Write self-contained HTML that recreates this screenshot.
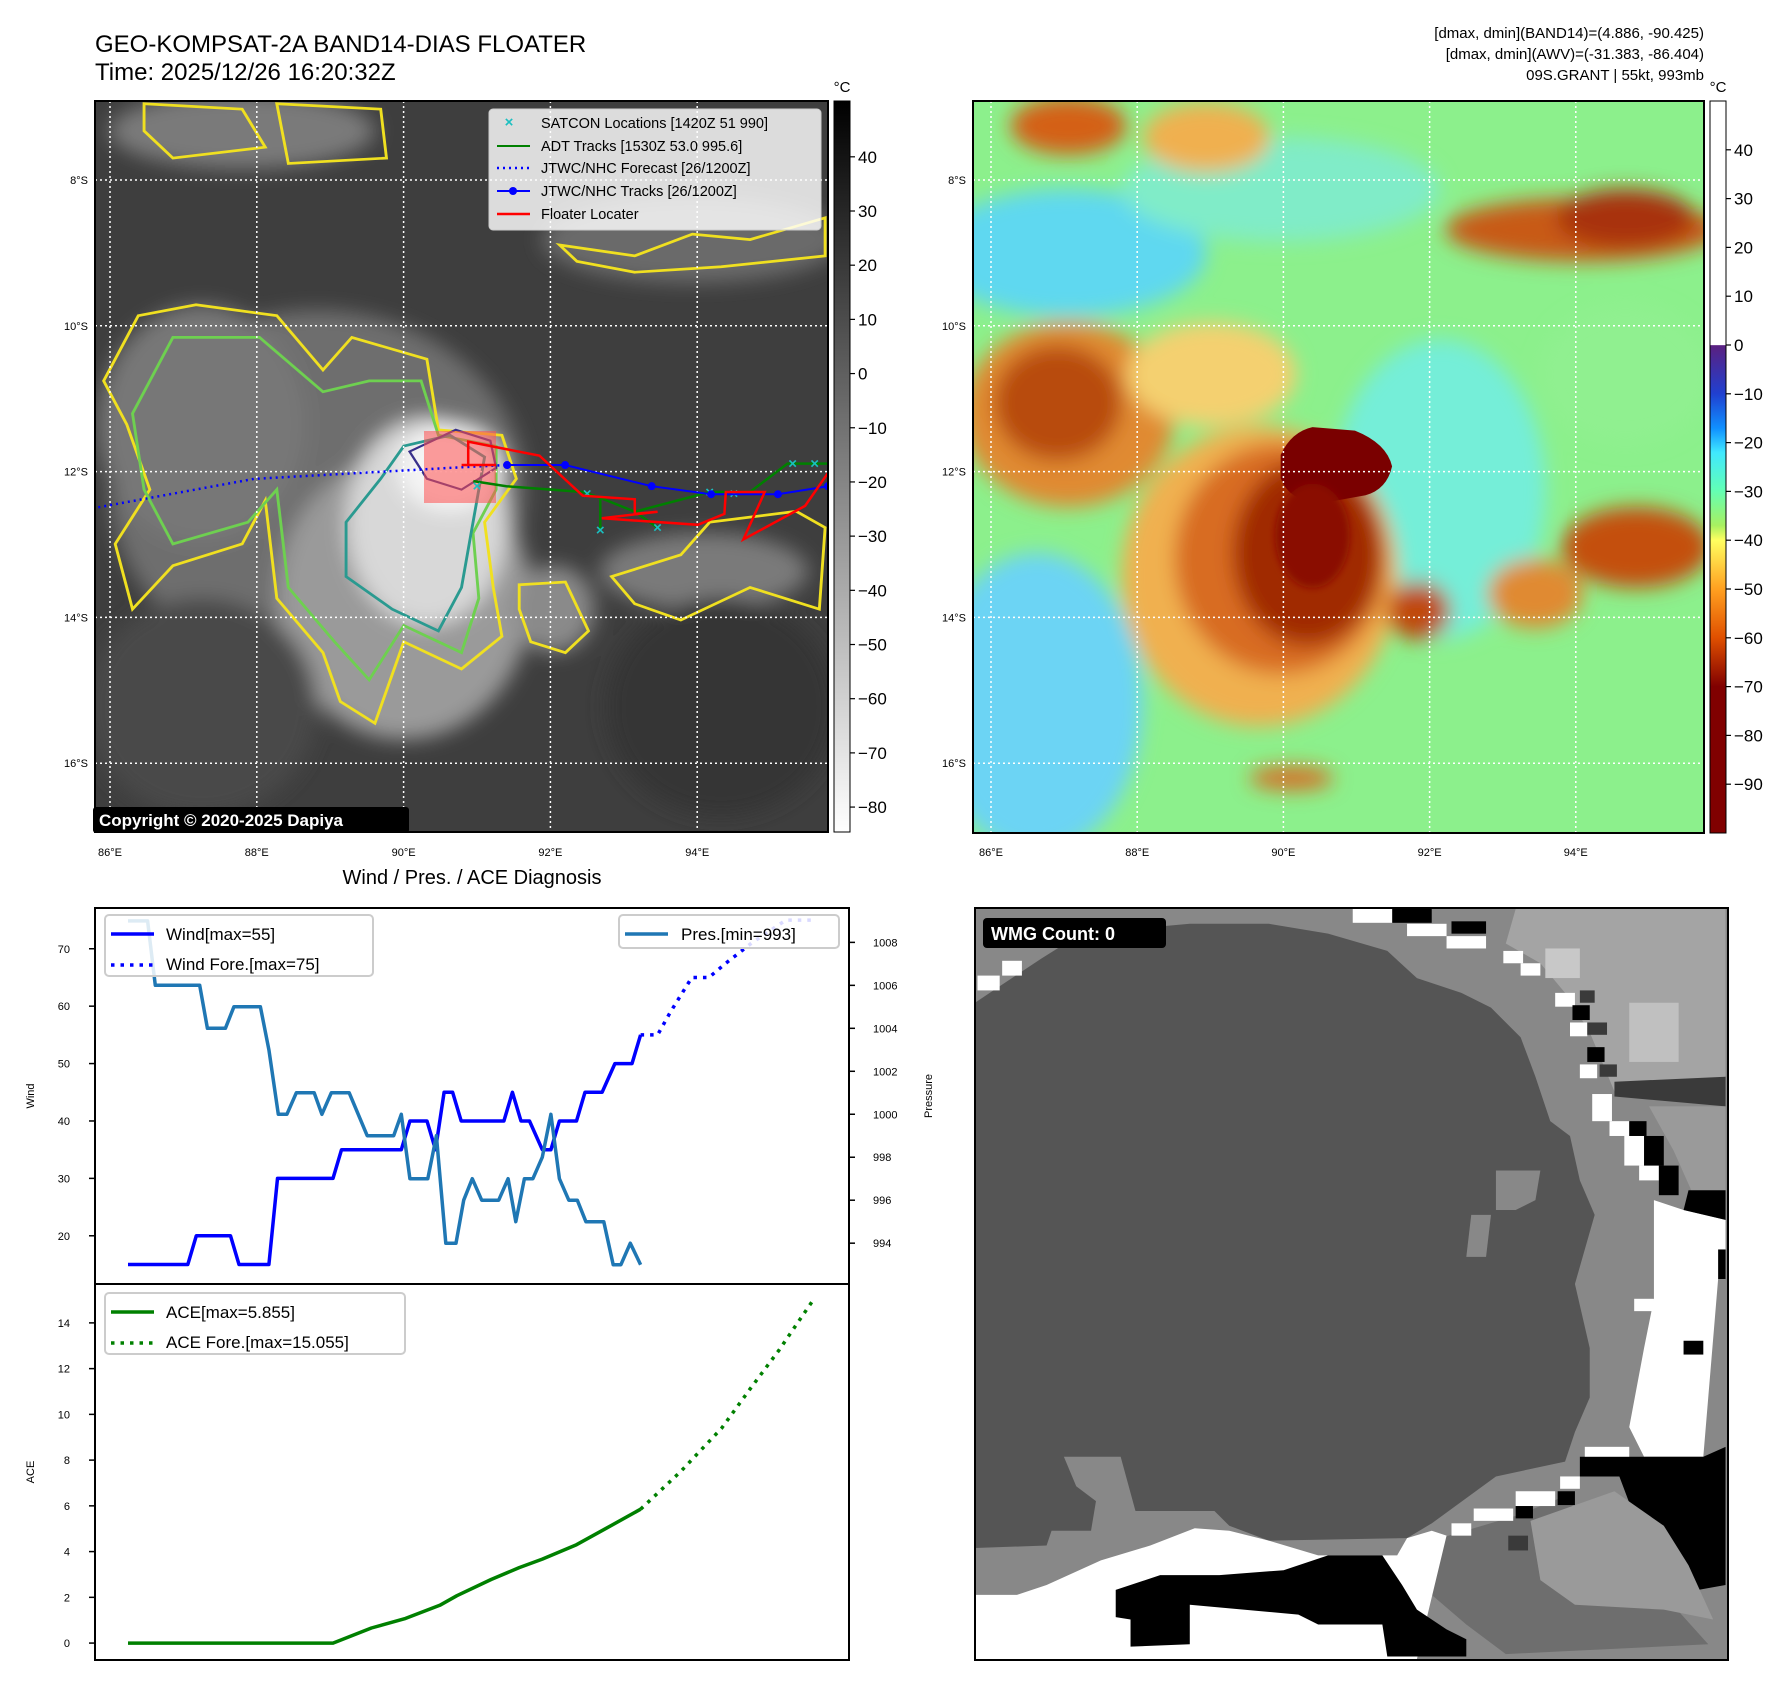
<!DOCTYPE html>
<html><head><meta charset="utf-8">
<style>
html,body{margin:0;padding:0;background:#fff;}
svg{display:block;font-family:"Liberation Sans","DejaVu Sans",sans-serif;}
</style></head>
<body>
<svg id="root" width="1788" height="1690" viewBox="0 0 1788 1690" xmlns="http://www.w3.org/2000/svg">
<defs>
<filter id="b8" x="-30%" y="-30%" width="160%" height="160%"><feGaussianBlur stdDeviation="18"/></filter>
<filter id="b4" x="-30%" y="-30%" width="160%" height="160%"><feGaussianBlur stdDeviation="7"/></filter>
<linearGradient id="grayCb" x1="0" y1="0" x2="0" y2="1">
<stop offset="0" stop-color="#000"/><stop offset="1" stop-color="#fff"/></linearGradient>
<linearGradient id="colCb" x1="0" y1="0" x2="0" y2="1">
<stop offset="0" stop-color="#fff"/><stop offset="0.333" stop-color="#fff"/>
<stop offset="0.334" stop-color="#5a2080"/><stop offset="0.4" stop-color="#2040d0"/>
<stop offset="0.447" stop-color="#1090ff"/><stop offset="0.48" stop-color="#40e8ff"/>
<stop offset="0.53" stop-color="#60ffb8"/><stop offset="0.58" stop-color="#a8f060"/>
<stop offset="0.6" stop-color="#ffff60"/><stop offset="0.667" stop-color="#ffa020"/>
<stop offset="0.733" stop-color="#e05000"/><stop offset="0.8" stop-color="#800000"/>
<stop offset="1" stop-color="#800000"/></linearGradient>
<clipPath id="clipL"><rect x="95" y="101" width="733" height="731"/></clipPath>
<clipPath id="clipR"><rect x="973" y="101" width="731" height="732"/></clipPath>
</defs>

<!-- Titles -->
<text x="95" y="52" font-size="24">GEO-KOMPSAT-2A BAND14-DIAS FLOATER</text>
<text x="95" y="80" font-size="24">Time: 2025/12/26 16:20:32Z</text>
<g font-size="15" text-anchor="end">
<text x="1704" y="38">[dmax, dmin](BAND14)=(4.886, -90.425)</text>
<text x="1704" y="59">[dmax, dmin](AWV)=(-31.383, -86.404)</text>
<text x="1704" y="80">09S.GRANT | 55kt, 993mb</text>
</g>

<!-- LEFT MAP imagery -->
<g>
<svg x="95" y="101" width="733" height="731" viewBox="165 185 1270 1345" preserveAspectRatio="none">
<rect x="165" y="185" width="1270" height="1345" fill="#3e3e3e"/>
<g filter="url(#b8)">
<ellipse cx="420" cy="240" rx="230" ry="70" fill="#7a7a7a"/>
<ellipse cx="1200" cy="440" rx="260" ry="80" fill="#6a6a6a"/>
<ellipse cx="550" cy="900" rx="360" ry="330" fill="#6e6e6e"/>
<ellipse cx="350" cy="780" rx="180" ry="220" fill="#777"/>
<ellipse cx="700" cy="1100" rx="220" ry="260" fill="#9a9a9a"/>
<ellipse cx="740" cy="960" rx="140" ry="190" fill="#d8d8d8"/>
<ellipse cx="780" cy="860" rx="90" ry="80" fill="#f4f4f4"/>
<ellipse cx="960" cy="1120" rx="70" ry="80" fill="#8a8a8a"/>
<ellipse cx="1220" cy="1050" rx="180" ry="70" fill="#7a7a7a"/>
<ellipse cx="350" cy="1300" rx="200" ry="200" fill="#4a4a4a"/>
<ellipse cx="1250" cy="1300" rx="200" ry="200" fill="#353535"/>
</g>
<g fill="none" stroke-width="5">
<path d="M610,620 L740,660 L760,790 L870,800 L895,880 L840,960 L855,1080 L870,1170 L800,1230 L700,1180 L650,1330 L590,1290 L560,1200 L480,1100 L460,920 L420,1000 L300,1040 L230,1120 L200,1000 L260,900 L220,780 L180,700 L240,580 L340,560 L480,580 L560,680 Z" stroke="#f0e020"/>
<path d="M640,700 L730,700 L760,800 L860,820 L860,900 L820,980 L830,1100 L800,1200 L700,1150 L640,1250 L580,1180 L500,1080 L480,900 L430,960 L300,1000 L250,900 L230,760 L300,620 L450,620 L560,720 Z" stroke="#6ed050"/>
<path d="M700,820 L780,800 L840,840 L820,960 L800,1080 L760,1160 L680,1120 L600,1060 L600,960 L660,880 Z" stroke="#2a9a90"/>
<path d="M710,830 L790,790 L850,810 L860,860 L800,900 L740,880 Z" stroke="#38308a" stroke-width="4"/>
<path d="M900,1075 L980,1070 L1020,1160 L980,1200 L920,1180 L900,1120 Z" stroke="#f0e020"/>
<path d="M1060,1060 L1180,1020 L1230,960 L1380,940 L1430,970 L1420,1120 L1300,1080 L1180,1140 L1100,1110 Z" stroke="#f0e020"/>
<path d="M970,450 L1100,470 L1200,430 L1300,440 L1430,400 L1430,470 L1250,490 L1100,500 L1000,480 Z" stroke="#f0e020"/>
<path d="M250,190 L420,200 L460,270 L300,290 L250,240 Z" stroke="#f0e020"/>
<path d="M480,190 L660,200 L670,290 L500,300 Z" stroke="#f0e020"/>
</g>
</svg>
</g>
<g clip-path="url(#clipL)">
<g id="gridL"></g>
<rect x="424" y="431" width="72" height="72" fill="#ff5050" fill-opacity="0.55"/>
<g id="tracks"></g>
</g>
<rect x="95" y="101" width="733" height="731" fill="none" stroke="#000" stroke-width="2"/>
<g>
<rect x="93" y="807" width="316" height="26" rx="3" fill="#000"/>
<text x="99" y="826" font-size="17" font-weight="bold" fill="#fff">Copyright © 2020-2025 Dapiya</text>
</g>
<!-- Map legend -->
<g>
<rect x="489" y="109" width="332" height="121" rx="4" fill="#fff" fill-opacity="0.82" stroke="#ccc"/>
<g font-size="14.5">
<text x="509" y="127" font-size="15" fill="#1bbfc0" text-anchor="middle" font-weight="bold">×</text>
<text x="541" y="128">SATCON Locations [1420Z 51 990]</text>
<line x1="497" y1="146" x2="530" y2="146" stroke="#008000" stroke-width="2"/>
<text x="541" y="151">ADT Tracks [1530Z 53.0 995.6]</text>
<line x1="497" y1="168" x2="530" y2="168" stroke="#0000ff" stroke-width="2.5" stroke-dasharray="2,4"/>
<text x="541" y="173">JTWC/NHC Forecast [26/1200Z]</text>
<line x1="497" y1="191" x2="530" y2="191" stroke="#0000ff" stroke-width="2"/><circle cx="513" cy="191" r="4" fill="#0000ff"/>
<text x="541" y="196">JTWC/NHC Tracks [26/1200Z]</text>
<line x1="497" y1="214" x2="530" y2="214" stroke="#ff0000" stroke-width="2.5"/>
<text x="541" y="219">Floater Locater</text>
</g></g>
<!-- left colorbar -->
<rect x="834" y="101" width="16" height="731" fill="url(#grayCb)" stroke="#000" stroke-width="1"/>
<text x="842" y="92" font-size="15" text-anchor="middle">°C</text>
<g id="cbL"></g>
<g id="ticksL"></g>

<!-- RIGHT MAP imagery -->
<g>
<svg x="973" y="101" width="731" height="732" viewBox="20 177 1378 1268" preserveAspectRatio="none">
<rect x="20" y="177" width="1378" height="1268" fill="#8cf08c"/>
<g filter="url(#b8)">
<ellipse cx="200" cy="440" rx="260" ry="110" fill="#5ed8f0"/>
<ellipse cx="140" cy="1220" rx="200" ry="260" fill="#6cd4f4"/>
<ellipse cx="900" cy="850" rx="200" ry="260" fill="#74eed8"/>
<ellipse cx="600" cy="330" rx="300" ry="90" fill="#80ecc8"/>
<ellipse cx="1250" cy="650" rx="160" ry="120" fill="#90f090"/>
<ellipse cx="200" cy="220" rx="110" ry="50" fill="#d46018"/>
<ellipse cx="460" cy="240" rx="120" ry="60" fill="#f0b050"/>
<ellipse cx="1170" cy="400" rx="260" ry="55" fill="#c85a14"/>
<ellipse cx="1250" cy="380" rx="130" ry="50" fill="#a83008"/>
<ellipse cx="200" cy="720" rx="200" ry="160" fill="#e08a30"/>
<ellipse cx="180" cy="700" rx="120" ry="100" fill="#b84c10"/>
<ellipse cx="470" cy="650" rx="160" ry="90" fill="#f4d070"/>
<ellipse cx="560" cy="1000" rx="260" ry="260" fill="#f0b050"/>
<ellipse cx="600" cy="970" rx="200" ry="200" fill="#d86c20"/>
<ellipse cx="650" cy="960" rx="140" ry="160" fill="#a02a00"/>
<ellipse cx="860" cy="1060" rx="60" ry="50" fill="#c04a10"/>
<ellipse cx="1270" cy="950" rx="140" ry="70" fill="#c45010"/>
<ellipse cx="1080" cy="1030" rx="90" ry="60" fill="#e08a30"/>
<ellipse cx="620" cy="1350" rx="80" ry="20" fill="#d86c20"/>
</g>
<path d="M600,790 Q620,750 660,742 L740,748 Q800,770 810,810 Q800,850 760,860 L700,870 Q620,880 600,830 Z" fill="#7a0000"/>
<ellipse cx="660" cy="930" rx="70" ry="90" fill="#8a1000" filter="url(#b4)"/>
</svg>
</g>
<g clip-path="url(#clipR)"><g id="gridR"></g></g>
<rect x="973" y="101" width="731" height="732" fill="none" stroke="#000" stroke-width="2"/>
<rect x="1710" y="101" width="16" height="732" fill="url(#colCb)" stroke="#000" stroke-width="1"/>
<text x="1718" y="92" font-size="15" text-anchor="middle">°C</text>
<g id="cbR"></g>
<g id="ticksR"></g>

<!-- Bottom-left charts -->
<text x="472" y="884" font-size="20" text-anchor="middle">Wind / Pres. / ACE Diagnosis</text>
<g id="charts"></g>
<rect x="95" y="908" width="754" height="376" fill="none" stroke="#000" stroke-width="2"/>
<rect x="95" y="1284" width="754" height="376" fill="none" stroke="#000" stroke-width="2"/>
<text transform="translate(34,1096) rotate(-90)" font-size="11" text-anchor="middle">Wind</text>
<text transform="translate(932,1096) rotate(-90)" font-size="11" text-anchor="middle">Pressure</text>
<text transform="translate(34,1472) rotate(-90)" font-size="11" text-anchor="middle">ACE</text>
<g>
<rect x="105" y="915" width="268" height="61" rx="4" fill="#fff" fill-opacity="0.85" stroke="#ccc" stroke-width="2"/>
<line x1="111" y1="934" x2="154" y2="934" stroke="#0000ff" stroke-width="3.5"/>
<text x="166" y="940" font-size="17">Wind[max=55]</text>
<line x1="111" y1="965" x2="154" y2="965" stroke="#0000ff" stroke-width="3.5" stroke-dasharray="3.5,6"/>
<text x="166" y="970" font-size="17">Wind Fore.[max=75]</text>
</g>
<g>
<rect x="619" y="915" width="220" height="33" rx="4" fill="#fff" fill-opacity="0.85" stroke="#ccc" stroke-width="2"/>
<line x1="625" y1="934" x2="668" y2="934" stroke="#1f77b4" stroke-width="3.5"/>
<text x="681" y="940" font-size="17">Pres.[min=993]</text>
</g>
<g>
<rect x="105" y="1293" width="300" height="61" rx="4" fill="#fff" fill-opacity="0.85" stroke="#ccc" stroke-width="2"/>
<line x1="111" y1="1312" x2="154" y2="1312" stroke="#008000" stroke-width="3.5"/>
<text x="166" y="1318" font-size="17">ACE[max=5.855]</text>
<line x1="111" y1="1343" x2="154" y2="1343" stroke="#008000" stroke-width="3.5" stroke-dasharray="3.5,6"/>
<text x="166" y="1348" font-size="17">ACE Fore.[max=15.055]</text>
</g>

<!-- Bottom-right WMG panel -->
<g>
<svg x="975" y="908" width="753" height="752" viewBox="5 8 1525 1524" preserveAspectRatio="none">
<rect x="5" y="8" width="1525" height="1524" fill="#888"/>
<polygon fill="#a4a4a4" points="1100,10 1525,10 1525,350 1300,380 1250,260 1200,180 1150,120 1080,80"/>
<rect x="1330" y="200" width="100" height="120" fill="#c0c0c0"/>
<rect x="1160" y="90" width="70" height="60" fill="#c8c8c8"/>
<polygon fill="#3a3a3a" points="1300,360 1525,350 1525,410 1300,390"/>
<polygon fill="#9a9a9a" points="1370,410 1525,410 1525,590 1460,590 1420,500"/>
<polygon fill="#555" points="5,200 50,170 140,110 220,60 440,40 600,40 720,60 840,95 900,150 990,180 1050,210 1110,270 1140,350 1170,440 1210,470 1230,560 1260,630 1220,770 1250,900 1250,1000 1220,1070 1200,1130 1060,1160 930,1255 880,1285 600,1290 520,1260 490,1230 330,1230 300,1120 185,1120 210,1180 250,1210 240,1270 160,1270 150,1300 5,1305"/>
<polygon fill="#888" points="1060,540 1150,540 1140,600 1100,620 1060,620"/>
<polygon fill="#888" points="1010,630 1050,630 1040,715 1000,715"/>
<polygon fill="#fff" points="1380,600 1440,620 1525,640 1525,760 1510,760 1480,1120 1360,1120 1330,1060 1360,900 1380,800"/>
<polygon fill="#000" points="1450,580 1525,580 1525,640 1440,620"/>
<polygon fill="#000" points="1230,1120 1480,1120 1525,1100 1525,1380 1470,1390 1440,1360 1400,1330 1400,1270 1340,1240 1310,1160 1230,1160"/>
<polygon fill="#6e6e6e" points="930,1290 1100,1240 1200,1200 1240,1250 1300,1300 1400,1400 1490,1500 1080,1520 1000,1460 930,1400"/>
<polygon fill="#9a9a9a" points="1130,1250 1300,1190 1400,1260 1450,1340 1500,1450 1400,1430 1220,1420 1150,1370"/>
<polygon fill="#fff" points="5,1400 90,1400 150,1380 260,1330 360,1300 450,1265 520,1270 600,1290 700,1320 860,1320 880,1285 930,1270 960,1280 900,1530 5,1530"/>
<polygon fill="#000" points="290,1390 380,1360 500,1360 630,1350 720,1320 830,1320 870,1380 900,1430 960,1470 1000,1490 1000,1525 840,1525 830,1460 700,1460 660,1440 440,1420 440,1500 320,1505 320,1450 290,1445"/>
<g fill="#fff"><rect x="10" y="145" width="45" height="30"/><rect x="60" y="115" width="40" height="30"/><rect x="770" y="10" width="80" height="28"/><rect x="880" y="40" width="80" height="25"/><rect x="960" y="65" width="80" height="25"/><rect x="1075" y="95" width="40" height="25"/><rect x="1110" y="120" width="40" height="25"/><rect x="1180" y="180" width="40" height="28"/><rect x="1210" y="240" width="35" height="28"/><rect x="1230" y="325" width="35" height="28"/><rect x="1255" y="385" width="40" height="55"/><rect x="1290" y="440" width="40" height="30"/><rect x="1320" y="470" width="40" height="60"/><rect x="1350" y="530" width="40" height="30"/><rect x="1340" y="800" width="40" height="25"/><rect x="1240" y="1100" width="90" height="20"/><rect x="1100" y="1190" width="80" height="30"/><rect x="1015" y="1225" width="80" height="25"/><rect x="970" y="1255" width="40" height="25"/><rect x="880" y="1285" width="40" height="30"/><rect x="1190" y="1160" width="40" height="25"/></g>
<g fill="#000"><rect x="850" y="10" width="80" height="28"/><rect x="970" y="35" width="70" height="25"/><rect x="1215" y="205" width="35" height="30"/><rect x="1245" y="290" width="35" height="30"/><rect x="1330" y="440" width="35" height="30"/><rect x="1360" y="470" width="40" height="60"/><rect x="1390" y="530" width="40" height="60"/><rect x="1440" y="885" width="40" height="28"/><rect x="1100" y="1220" width="35" height="25"/><rect x="1185" y="1190" width="35" height="28"/><rect x="1510" y="700" width="15" height="60"/></g>
<g fill="#3a3a3a"><rect x="1245" y="240" width="40" height="25"/><rect x="1270" y="325" width="35" height="25"/><rect x="1230" y="175" width="30" height="25"/><rect x="1085" y="1280" width="40" height="30"/></g>
</svg>
<rect x="975" y="908" width="753" height="752" fill="none" stroke="#000" stroke-width="2"/>
</g>
<g>
<rect x="983" y="918" width="183" height="30" rx="4" fill="#000"/>
<text x="991" y="940" font-size="18" font-weight="bold" fill="#fff">WMG Count: 0</text>
</g>
</svg>

<script>
// ---- chart data ----
const windT = [0,7,8,12,13,16.5,17.5,24,25,32,33,35,36,37,38,39,44,45,46,47,48.5,49.5,50.5,52.5,53.5,55.5,57,59,60];
const windV = [15,15,20,20,15,15,30,30,35,35,40,40,35,45,45,40,40,45,40,40,35,35,40,40,45,45,50,50,55];
const windForeT = [60,62,63.5,66,68,70,73,75.5,77,80];
const windForeV = [55,55,59,65,65,67.5,71,73.5,75,75];
const presT = [0,2.3,3.2,8.4,9.3,11.4,12.4,15.5,16.5,17.6,18.6,19.7,21.8,22.7,23.8,25.9,28,31.1,32,33,35.1,36.1,37.2,38.4,39.3,40.3,41.4,43.4,44.5,45.4,46.4,47.4,48.5,49.5,50.5,51.6,52.6,53.6,55.7,56.8,57.7,58.8,60];
const presV = [1009,1009,1006,1006,1004,1004,1005,1005,1003,1000,1000,1001,1001,1000,1001,1001,999,999,1000,997,997,999,994,994,996,997,996,996,997,995,997,997,998,1000,997,996,996,995,995,993,993,994,993];
const aceT = [0,24,28.5,32.5,36.5,38.5,42.5,45.8,48.5,52.5,55.9,60];
const aceV = [0,0,0.66,1.08,1.65,2.07,2.78,3.3,3.67,4.3,5.0,5.855];
const aceForeT = [60,64.7,69.5,72.8,76.2,80.3];
const aceForeV = [5.855,7.5,9.4,11.1,12.8,15.055];
const windTicks = [20,30,40,50,60,70];
const presTicks = [994,996,998,1000,1002,1004,1006,1008];
const aceTicks = [0,2,4,6,8,10,12,14];
// ---- map data (lon E, lat S) ----
const fcstLon = [85.84,87.96,90.8,91.41];
const fcstLat = [12.49,12.1,11.94,11.91];
const jtwcLon = [91.41,92.2,93.38,94.19,95.1,95.78];
const jtwcLat = [11.91,11.91,12.2,12.31,12.31,12.2];
const adtLon = [90.95,91.4,92.44,92.68,92.68,92.68,93.15,93.46,93.15,94.17,94.72,95.23,95.78];
const adtLat = [12.13,12.2,12.28,12.36,12.8,12.36,12.55,12.77,12.55,12.28,12.28,11.89,11.89];
const redLon = [90.79,91.26,90.88,90.88,91.85,92.44,93.15,93.15,93.46,92.7,94.01,94.37,94.39,94.92,94.63,95.47,95.78];
const redLat = [11.91,11.91,11.91,11.59,11.78,12.33,12.38,12.58,12.55,12.64,12.73,12.58,12.28,12.28,12.93,12.47,12.02];
const satLon = [92.68,93.46,94.17,94.5,95.3,95.6,91.0,92.5];
const satLat = [12.8,12.77,12.28,12.3,11.89,11.89,12.2,12.3];
const lonTicks = [86,88,90,92,94];
const latTicks = [8,10,12,14,16];
const cbLTicks = [40,30,20,10,0,-10,-20,-30,-40,-50,-60,-70,-80];
const cbRTicks = [40,30,20,10,0,-10,-20,-30,-40,-50,-60,-70,-80,-90];

const NS='http://www.w3.org/2000/svg';
function mk(tag, attrs, parent){const e=document.createElementNS(NS,tag);for(const k in attrs)e.setAttribute(k,attrs[k]);parent.appendChild(e);return e;}
function fmt(v){return v<0?'\u2212'+Math.abs(v):String(v);}

// scales
const xs = t => 95 + (t+3.86)/88.26*754;
const yW = v => 908 + (77.1-v)/65.5*376;
const yP = p => 908 + (1009.6-p)/17.5*376;
const yA = a => 1284 + (15.7-a)/16.44*376;
const lxL = lon => 110 + (lon-86)*73.4;
const lyL = lat => 180 + (lat-8)*72.9;
const lxR = lon => 991 + (lon-86)*73.1;
const cbLy = v => 101 + (50.3-v)/134.9*731;
const cbRy = v => 101 + (50-v)/150*732;
function pts(T,V,fx,fy){return T.map((t,i)=>fx(t).toFixed(1)+','+fy(V[i]).toFixed(1)).join(' ');}

const charts=document.getElementById('charts');
let e;
// ticks
windTicks.forEach(v=>{
  e=mk('line',{x1:89,x2:95,y1:yW(v),y2:yW(v),stroke:'#000','stroke-width':1.5},charts);
  
  
  e=mk('text',{x:70,y:yW(v)+4,'font-size':11,'text-anchor':'end'},charts);e.textContent=v;
  
  
});
presTicks.forEach(v=>{
  e=mk('line',{x1:849,x2:855,y1:yP(v),y2:yP(v),stroke:'#000','stroke-width':1.5},charts);
  
  
  e=mk('text',{x:873,y:yP(v)+4,'font-size':11},charts);e.textContent=v;
  
  
});
aceTicks.forEach(v=>{
  e=mk('line',{x1:89,x2:95,y1:yA(v),y2:yA(v),stroke:'#000','stroke-width':1.5},charts);
  
  
  e=mk('text',{x:70,y:yA(v)+4,'font-size':11,'text-anchor':'end'},charts);e.textContent=v;
  
  
});
// series
e=mk('polyline',{points:pts(windT,windV,xs,yW),fill:'none',stroke:'#0000ff','stroke-width':3.5,'stroke-linejoin':'round'},charts);


e=mk('polyline',{points:pts(windForeT,windForeV,xs,yW),fill:'none',stroke:'#0000ff','stroke-width':3.5,'stroke-dasharray':'3.5,6'},charts);


e=mk('polyline',{points:pts(presT,presV,xs,yP),fill:'none',stroke:'#1f77b4','stroke-width':3.5,'stroke-linejoin':'round'},charts);


e=mk('polyline',{points:pts(aceT,aceV,xs,yA),fill:'none',stroke:'#008000','stroke-width':3.5,'stroke-linejoin':'round'},charts);


e=mk('polyline',{points:pts(aceForeT,aceForeV,xs,yA),fill:'none',stroke:'#008000','stroke-width':3.5,'stroke-dasharray':'3.5,6'},charts);



// map grids + tick labels
function grid(gid, tid, fx, x0, x1){
  const g=document.getElementById(gid), tg=document.getElementById(tid);
  lonTicks.forEach(l=>{
    e=mk('line',{x1:fx(l),x2:fx(l),y1:101,y2:833,stroke:'#fff','stroke-width':1.5,'stroke-dasharray':'2,3'},g);
    
    
    e=mk('text',{x:fx(l),y:856,'font-size':11,'text-anchor':'middle'},tg);e.textContent=l+'°E';
    
    
  });
  latTicks.forEach(l=>{
    e=mk('line',{x1:x0,x2:x1,y1:lyL(l),y2:lyL(l),stroke:'#fff','stroke-width':1.5,'stroke-dasharray':'2,3'},g);
    
    
    e=mk('text',{x:x0-7,y:lyL(l)+4,'font-size':11,'text-anchor':'end'},tg);e.textContent=l+'°S';
    
    
  });
}
grid('gridL','ticksL',lxL,95,828);
grid('gridR','ticksR',lxR,973,1704);

// colorbar ticks
function cbt(id,ticks,fy,x){
  const g=document.getElementById(id);
  ticks.forEach(v=>{
    e=mk('line',{x1:x,x2:x+5,y1:fy(v),y2:fy(v),stroke:'#000','stroke-width':1.2},g);
    
    
    e=mk('text',{x:x+8,y:fy(v)+6,'font-size':17},g);e.textContent=fmt(v);
    
    
  });
}
cbt('cbL',cbLTicks,cbLy,850);
cbt('cbR',cbRTicks,cbRy,1726);

// tracks
const tr=document.getElementById('tracks');
const mp=(L,A)=>L.map((l,i)=>lxL(l).toFixed(1)+','+lyL(A[i]).toFixed(1)).join(' ');
e=mk('polyline',{points:mp(adtLon,adtLat),fill:'none',stroke:'#008000','stroke-width':2.5},tr);


satLon.forEach((l,i)=>{
  e=mk('text',{x:lxL(l),y:lyL(satLat[i])+5,'font-size':15,'font-weight':'bold',fill:'#1bbfc0','text-anchor':'middle'},tr);e.textContent='×';
  
  
});
e=mk('polyline',{points:mp(fcstLon,fcstLat),fill:'none',stroke:'#0000ff','stroke-width':2.5,'stroke-dasharray':'2,4'},tr);


e=mk('polyline',{points:mp(jtwcLon,jtwcLat),fill:'none',stroke:'#0000ff','stroke-width':2},tr);


jtwcLon.forEach((l,i)=>{
  e=mk('circle',{cx:lxL(l),cy:lyL(jtwcLat[i]),r:4,fill:'#0000ff'},tr);
  
  
});
e=mk('polyline',{points:mp(redLon,redLat),fill:'none',stroke:'#ff0000','stroke-width':2.5},tr);


</script>
</body></html>
